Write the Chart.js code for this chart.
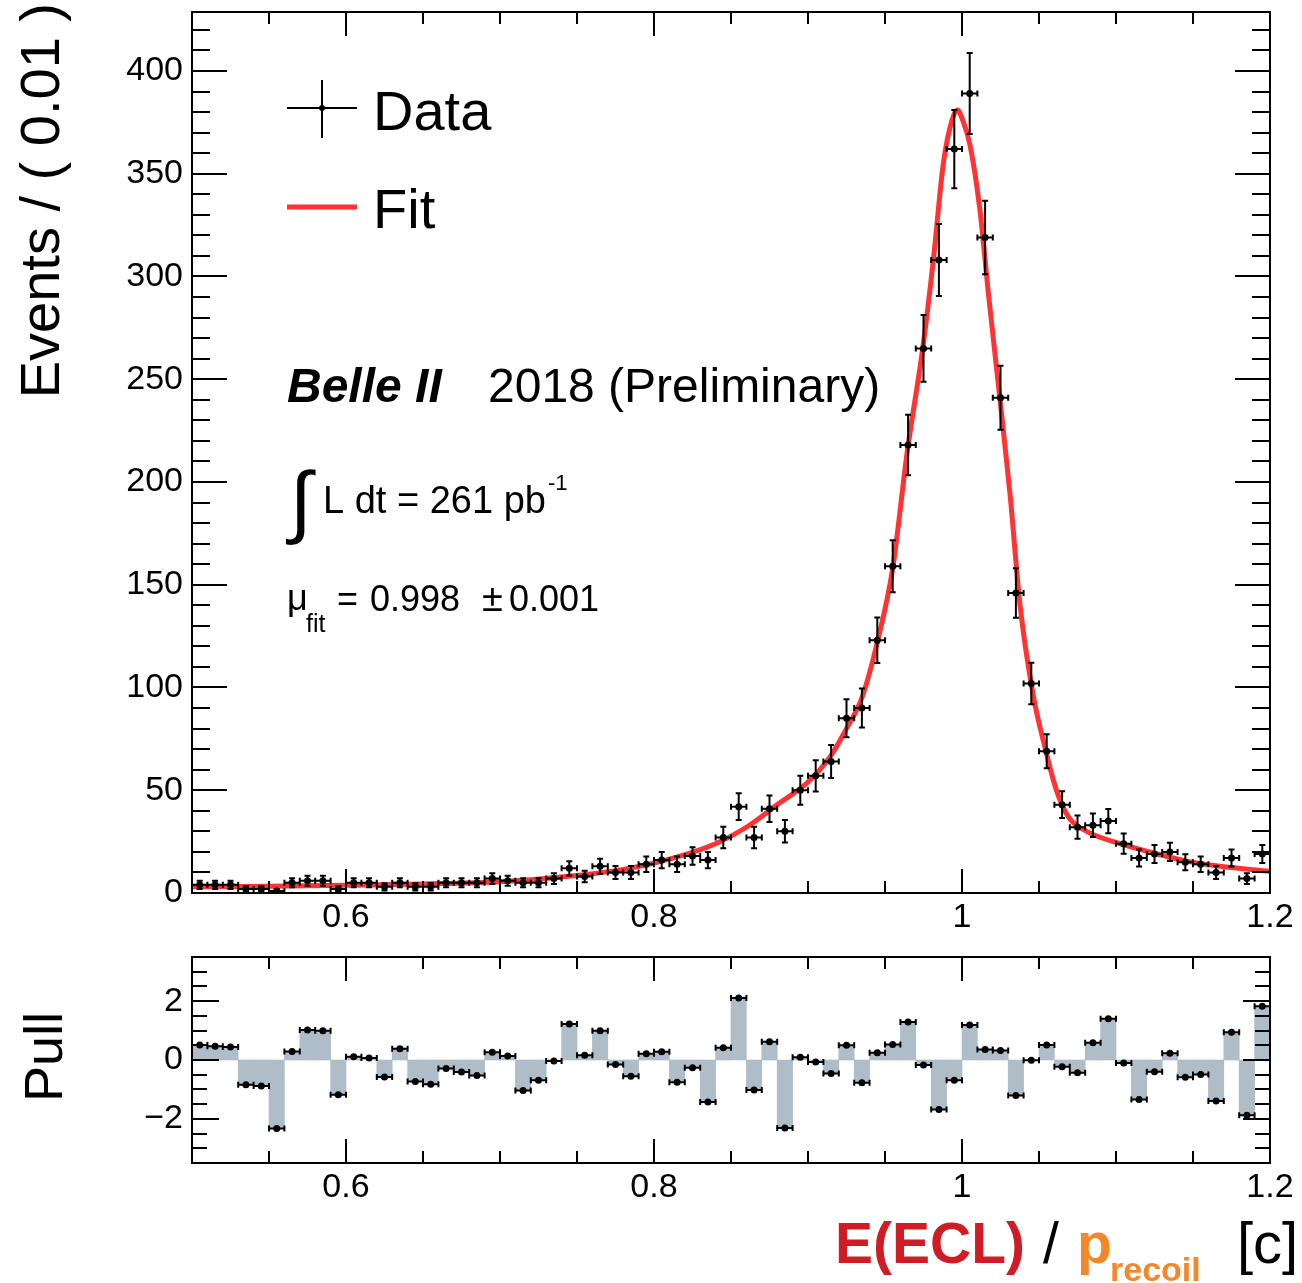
<!DOCTYPE html>
<html>
<head>
<meta charset="utf-8">
<script src="https://cdn.jsdelivr.net/npm/chart.js@4.4.0/dist/chart.umd.min.js"></script>
<style>
  body { margin: 0; background: #fff; width: 1302px; height: 1283px; position: relative; overflow: hidden; }
  canvas { position: absolute; left: 0; display: block; }
  #main { top: 0; }
  #pull { top: 940px; }
</style>
</head>
<body>
<canvas id="main" width="1302" height="940"></canvas>
<canvas id="pull" width="1302" height="343"></canvas>
<script>
// histogram binning: 70 bins of 0.01 from 0.5 to 1.2
const binStart = 0.5;
const binWidth = 0.01;

// events per bin
const counts = [4, 4, 4, 2, 2, 1, 5, 6, 6, 2,
                5, 5, 3, 5, 3, 3, 5, 5, 5, 7,
                6, 5, 5, 7, 12, 8, 13, 10, 10, 14,
                16, 14, 18, 16, 27, 42, 27, 41, 30, 50,
                57, 64, 85, 90, 123, 159, 218, 265, 308, 362,
                389, 319, 241, 146, 102, 69, 43, 32, 33, 35,
                24, 17, 19, 20, 15, 14, 10, 17, 7, 19];

// pull per bin
const pulls = [0.51, 0.47, 0.44, -0.84, -0.88, -2.33, 0.29, 1.02, 0.99, -1.18,
               0.11, 0.07, -0.58, 0.38, -0.73, -0.82, -0.29, -0.41, -0.53, 0.26,
               0.14, -1.04, -0.69, -0.03, 1.22, 0.16, 0.99, -0.15, -0.55, 0.21,
               0.28, -0.76, -0.26, -1.43, 0.42, 2.11, -1.02, 0.62, -2.31, 0.09,
               -0.07, -0.46, 0.50, -0.77, 0.25, 0.53, 1.29, -0.17, -1.68, -0.69,
               1.19, 0.36, 0.32, -1.21, -0.01, 0.51, -0.23, -0.43, 0.59, 1.40,
               -0.10, -1.34, -0.40, 0.23, -0.59, -0.49, -1.39, 0.94, -1.88, 1.83];

// fit curve, points
const fitX = [0.50, 0.55, 0.60, 0.65, 0.70, 0.75, 0.78, 0.81, 0.84, 0.86,
              0.88, 0.90, 0.915, 0.925, 0.935, 0.945, 0.955, 0.9645, 0.9745, 0.9814,
              0.9879, 0.9935, 0.997, 1.0005, 1.0052, 1.0117, 1.0171, 1.0247, 1.0312, 1.0377,
              1.0463, 1.0545, 1.0593, 1.0643, 1.0701, 1.0809, 1.1026, 1.1242, 1.1459, 1.1675,
              1.20];
const fitY = [3.0, 3.3, 3.8, 4.4, 5.5, 8.5, 11.5, 16.5, 24, 32,
              43, 54, 67, 80, 95, 122, 158, 215, 265, 308,
              355, 376, 381, 376, 364, 332, 292, 240, 194, 140,
              96, 69, 55, 44, 36, 30, 24, 19.5, 15.5, 13,
              10.5];

const xTickValues = [0.6, 0.8, 1.0, 1.2];
const yTickValues = [0, 50, 100, 150, 200, 250, 300, 350, 400];
const pullTickValues = [-2, 0, 2];

const FONT = 'Liberation Sans';
Chart.defaults.font.family = FONT;
Chart.defaults.color = '#000';

const centers = counts.map((c, i) => +(binStart + (i + 0.5) * binWidth).toFixed(3));
const errors = counts.map(c => Math.sqrt(c));

// ROOT style frame with inward ticks on all four sides
function frameTicks(xs, ys) {
  return {
    id: 'frameTicks',
    afterDatasetsDraw(chart) {
      const {ctx, chartArea: a} = chart;
      const sx = chart.scales.x, sy = chart.scales.y;
      ctx.save();
      ctx.strokeStyle = '#000';
      ctx.lineWidth = 2;
      ctx.beginPath();
      for (let n = 0; ; n++) {
        const v = xs.min + n * xs.step;
        if (v > xs.max + 1e-9) break;
        const r = v / xs.major;
        const len = Math.abs(r - Math.round(r)) < 1e-6 ? xs.majorLen : xs.minorLen;
        const px = Math.round(sx.getPixelForValue(v));
        ctx.moveTo(px, a.bottom); ctx.lineTo(px, a.bottom - len);
        ctx.moveTo(px, a.top); ctx.lineTo(px, a.top + len);
      }
      for (let n = 0; ; n++) {
        const v = ys.min + n * ys.step;
        if (v > ys.max + 1e-9) break;
        const r = v / ys.major;
        const len = Math.abs(r - Math.round(r)) < 1e-6 ? ys.majorLen : ys.minorLen;
        const py = Math.round(sy.getPixelForValue(v));
        ctx.moveTo(a.left, py); ctx.lineTo(a.left + len, py);
        ctx.moveTo(a.right, py); ctx.lineTo(a.right - len, py);
      }
      ctx.stroke();
      ctx.strokeRect(a.left, a.top, a.right - a.left, a.bottom - a.top);
      ctx.restore();
    }
  };
}

// horizontal (bin width) and optional vertical error bars
function errorBars(values, errs) {
  return {
    id: 'errorBars',
    afterDatasetsDraw(chart) {
      const {ctx} = chart;
      const sx = chart.scales.x, sy = chart.scales.y;
      const cap = 3;
      ctx.save();
      ctx.strokeStyle = '#000';
      ctx.lineWidth = 2;
      ctx.beginPath();
      values.forEach((v, i) => {
        const c = centers[i];
        const px = sx.getPixelForValue(c), py = sy.getPixelForValue(v);
        const xl = sx.getPixelForValue(c - binWidth / 2), xr = sx.getPixelForValue(c + binWidth / 2);
        ctx.moveTo(xl, py); ctx.lineTo(xr, py);
        ctx.moveTo(xl, py - cap); ctx.lineTo(xl, py + cap);
        ctx.moveTo(xr, py - cap); ctx.lineTo(xr, py + cap);
        if (errs) {
          const yt = sy.getPixelForValue(v + errs[i]);
          const yb = sy.getPixelForValue(Math.max(v - errs[i], 0));
          ctx.moveTo(px, yt); ctx.lineTo(px, yb);
          ctx.moveTo(px - cap, yt); ctx.lineTo(px + cap, yt);
          ctx.moveTo(px - cap, yb); ctx.lineTo(px + cap, yb);
        }
      });
      ctx.stroke();
      ctx.restore();
    }
  };
}

function txt(ctx, s, x, y, font, color, align) {
  ctx.font = font;
  ctx.fillStyle = color || '#000';
  ctx.textAlign = align || 'left';
  ctx.textBaseline = 'alphabetic';
  ctx.fillText(s, x, y);
  return x + ctx.measureText(s).width;
}

function vtxt(ctx, s, x, y, font, align) {
  ctx.save();
  ctx.translate(x, y);
  ctx.rotate(-Math.PI / 2);
  txt(ctx, s, 0, 0, font, '#000', align);
  ctx.restore();
}

const mainLabels = {
  id: 'mainLabels',
  afterDraw(chart) {
    const ctx = chart.ctx;
    ctx.save();
    // y title, aligned to the top
    vtxt(ctx, 'Events / ( 0.01 )', 59, 3, '56px "' + FONT + '"', 'right');

    // legend
    ctx.strokeStyle = '#000';
    ctx.lineWidth = 2;
    ctx.beginPath();
    ctx.moveTo(287, 108); ctx.lineTo(357, 108);
    ctx.moveTo(322, 80); ctx.lineTo(322, 138);
    ctx.stroke();
    ctx.fillStyle = '#000';
    ctx.beginPath(); ctx.arc(322, 108, 3, 0, Math.PI * 2); ctx.fill();
    txt(ctx, 'Data', 373, 130, '56px "' + FONT + '"');
    ctx.strokeStyle = '#ff3333';
    ctx.lineWidth = 5;
    ctx.beginPath(); ctx.moveTo(287, 207); ctx.lineTo(357, 207); ctx.stroke();
    txt(ctx, 'Fit', 373, 228, '56px "' + FONT + '"');

    // annotations
    txt(ctx, 'Belle II', 287, 402, 'italic bold 48px "' + FONT + '"');
    txt(ctx, '2018 (Preliminary)', 488, 402, '48px "' + FONT + '"');
    txt(ctx, '\u222B', 290, 528, '80px "' + FONT + '"');
    const end = txt(ctx, 'L dt = 261 pb', 323, 513, '38px "' + FONT + '"');
    txt(ctx, '-1', end + 2, 490, '22px "' + FONT + '"');
    txt(ctx, '\u03BC', 287, 610, '36px "' + FONT + '"');
    txt(ctx, 'fit', 306, 632, '25px "' + FONT + '"');
    txt(ctx, '=', 337, 611, '36px "' + FONT + '"');
    txt(ctx, '0.998', 370, 611, '36px "' + FONT + '"');
    txt(ctx, '\u00B1', 482, 611, '38px "' + FONT + '"');
    txt(ctx, '0.001', 509, 611, '36px "' + FONT + '"');
    ctx.restore();
  }
};

const pullLabels = {
  id: 'pullLabels',
  afterDraw(chart) {
    const ctx = chart.ctx;
    ctx.save();
    vtxt(ctx, 'Pull', 62, 117, '54px "' + FONT + '"', 'center');
    // x title: E(ECL) / p_recoil [c]
    const base = 323;
    txt(ctx, 'E(ECL)', 835, base, 'bold 57px "' + FONT + '"', '#d01c24');
    txt(ctx, '/', 1043, base, '57px "' + FONT + '"', '#000');
    txt(ctx, 'p', 1077, base, 'bold 57px "' + FONT + '"', '#f4872a');
    txt(ctx, 'recoil', 1110, base + 18, 'bold 34px "' + FONT + '"', '#f4872a');
    txt(ctx, '[c]', 1237, base, '58px "' + FONT + '"', '#000');
    ctx.restore();
  }
};

const tickFont = {family: FONT, size: 34};

function fixX(height) {
  return s => { s.height = height; s.paddingLeft = 0; s.paddingRight = 0; };
}
function fixY(width) {
  return s => { s.width = width; s.paddingTop = 0; s.paddingBottom = 0; };
}

// main panel
new Chart(document.getElementById('main'), {
  type: 'scatter',
  data: {
    datasets: [
      {
        label: 'Data',
        data: counts.map((c, i) => ({x: centers[i], y: c})),
        pointRadius: 3.5,
        pointBackgroundColor: '#000',
        pointBorderWidth: 0,
        order: 1
      },
      {
        type: 'line',
        label: 'Fit',
        data: fitX.map((x, i) => ({x: x, y: fitY[i]})),
        borderColor: '#ff3333',
        borderWidth: 5,
        pointRadius: 0,
        fill: false,
        showLine: true,
        cubicInterpolationMode: 'monotone',
        order: 2
      }
    ]
  },
  options: {
    responsive: false,
    animation: false,
    layout: {padding: {top: 12, right: 32, left: 0, bottom: 0}},
    plugins: {legend: {display: false}, tooltip: {enabled: false}},
    scales: {
      x: {
        type: 'linear', min: 0.5, max: 1.2,
        grid: {display: false, drawTicks: false},
        border: {display: false},
        afterBuildTicks: s => { s.ticks = xTickValues.map(v => ({value: v})); },
        ticks: {font: tickFont, padding: 4, maxRotation: 0, autoSkip: false,
                callback: v => String(+v.toFixed(1))},
        afterFit: fixX(47)
      },
      y: {
        type: 'linear', min: 0, max: 428.7,
        grid: {display: false, drawTicks: false},
        border: {display: false},
        afterBuildTicks: s => { s.ticks = yTickValues.map(v => ({value: v})); },
        ticks: {font: tickFont, padding: 9, autoSkip: false},
        afterFit: fixY(192)
      }
    }
  },
  plugins: [
    frameTicks({min: 0.5, max: 1.2, step: 0.05, major: 0.2, majorLen: 24, minorLen: 12},
               {min: 0, max: 428.7, step: 10, major: 50, majorLen: 35, minorLen: 18}),
    errorBars(counts, errors),
    mainLabels
  ]
});

// pull panel
new Chart(document.getElementById('pull'), {
  type: 'bar',
  data: {
    datasets: [
      {
        type: 'scatter',
        label: 'Pull points',
        data: pulls.map((p, i) => ({x: centers[i], y: p})),
        pointRadius: 3.5,
        pointBackgroundColor: '#000',
        pointBorderWidth: 0,
        order: 1
      },
      {
        label: 'Pull',
        data: pulls.map((p, i) => ({x: centers[i], y: p})),
        backgroundColor: '#afbdc8',
        borderWidth: 0,
        barPercentage: 1,
        categoryPercentage: 1,
        order: 2
      }
    ]
  },
  options: {
    responsive: false,
    animation: false,
    layout: {padding: {top: 17, right: 32, left: 0, bottom: 0}},
    plugins: {legend: {display: false}, tooltip: {enabled: false}},
    scales: {
      x: {
        type: 'linear', min: 0.5, max: 1.2, offset: false,
        grid: {display: false, drawTicks: false, offset: false},
        border: {display: false},
        afterBuildTicks: s => { s.ticks = xTickValues.map(v => ({value: v})); },
        ticks: {font: tickFont, padding: 4, maxRotation: 0, autoSkip: false,
                callback: v => String(+v.toFixed(1))},
        afterFit: fixX(120)
      },
      y: {
        type: 'linear', min: -3.5, max: 3.5,
        grid: {display: false, drawTicks: false},
        border: {display: false},
        afterBuildTicks: s => { s.ticks = pullTickValues.map(v => ({value: v})); },
        ticks: {font: tickFont, padding: 9, autoSkip: false,
                callback: v => v < 0 ? '\u2212' + Math.abs(v) : String(v)},
        afterFit: fixY(192)
      }
    }
  },
  plugins: [
    frameTicks({min: 0.5, max: 1.2, step: 0.05, major: 0.2, majorLen: 24, minorLen: 12},
               {min: -3.5, max: 3.5, step: 0.5, major: 2, majorLen: 27, minorLen: 15}),
    errorBars(pulls, null),
    pullLabels
  ]
});
</script>
</body>
</html>
